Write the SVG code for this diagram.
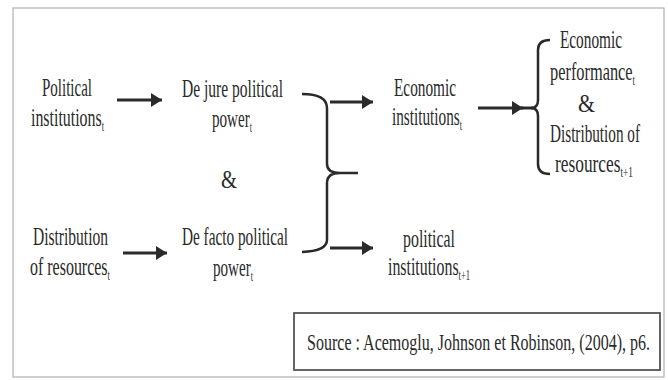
<svg xmlns="http://www.w3.org/2000/svg" width="668" height="380" viewBox="0 0 668 380">
<style>
text{font-family:"Liberation Serif","Times New Roman",serif;font-size:26px;fill:#2a2a2a}
.sub{font-size:14px}
.src{font-size:23px}
.ln{stroke:#2a2a2a;stroke-width:3;fill:none}
.br{stroke:#2a2a2a;stroke-width:2.5;fill:none}
</style>
<defs>
<marker id="ah" markerUnits="userSpaceOnUse" markerWidth="12" markerHeight="14" refX="11" refY="7" orient="auto">
<path d="M0,0 L11,7 L0,14 Z" fill="#2a2a2a"/>
</marker>
</defs>
<rect x="13" y="8" width="651" height="369" fill="#fff" stroke="#b0b0b0" stroke-width="1.2"/>
<g id="pol-inst-t" transform="scale(0.6,1)">
<text x="70" y="96" textLength="83.3" lengthAdjust="spacingAndGlyphs">Political</text>
<text x="51.7" y="126" textLength="121.7" lengthAdjust="spacingAndGlyphs">institutions<tspan class="sub" dy="5">t</tspan></text>
</g>
<g id="dejure" transform="scale(0.6,1)">
<text x="303.3" y="97" textLength="168.3" lengthAdjust="spacingAndGlyphs">De jure political</text>
<text x="353.3" y="127" textLength="66.7" lengthAdjust="spacingAndGlyphs">power<tspan class="sub" dy="5">t</tspan></text>
</g>
<g id="amp1" transform="scale(0.6,1)"><text x="368.3" y="188" textLength="26.7" lengthAdjust="spacingAndGlyphs">&amp;</text></g>
<g id="dist-t" transform="scale(0.6,1)">
<text x="55" y="245" textLength="125" lengthAdjust="spacingAndGlyphs">Distribution</text>
<text x="50" y="275" textLength="133.3" lengthAdjust="spacingAndGlyphs">of resources<tspan class="sub" dy="5">t</tspan></text>
</g>
<g id="defacto" transform="scale(0.6,1)">
<text x="303.3" y="245" textLength="176.7" lengthAdjust="spacingAndGlyphs">De facto political</text>
<text x="355" y="276" textLength="66.7" lengthAdjust="spacingAndGlyphs">power<tspan class="sub" dy="5">t</tspan></text>
</g>
<g id="econ-inst" transform="scale(0.6,1)">
<text x="656.7" y="96" textLength="103.3" lengthAdjust="spacingAndGlyphs">Economic</text>
<text x="653.3" y="125" textLength="116.7" lengthAdjust="spacingAndGlyphs">institutions<tspan class="sub" dy="5">t</tspan></text>
</g>
<g id="pol-inst-t1" transform="scale(0.6,1)">
<text x="671.7" y="247" textLength="86.7" lengthAdjust="spacingAndGlyphs">political</text>
<text x="646.7" y="275" textLength="136.7" lengthAdjust="spacingAndGlyphs">institutions<tspan class="sub" dy="5">t+1</tspan></text>
</g>
<g id="outcome" transform="scale(0.6,1)">
<text x="933.3" y="48" textLength="103.3" lengthAdjust="spacingAndGlyphs">Economic</text>
<text x="916.7" y="80" textLength="141.7" lengthAdjust="spacingAndGlyphs">performance<tspan class="sub" dy="5">t</tspan></text>
<text x="963.3" y="112" textLength="28.3" lengthAdjust="spacingAndGlyphs">&amp;</text>
<text x="916.7" y="142" textLength="150" lengthAdjust="spacingAndGlyphs">Distribution of</text>
<text x="925" y="172" textLength="130" lengthAdjust="spacingAndGlyphs">resources<tspan class="sub" dy="5">t+1</tspan></text>
</g>
<g id="source">
<rect x="294" y="313" width="366" height="57" fill="none" stroke="#555" stroke-width="1.8"/>
<text class="src" transform="scale(0.6,1)" x="511.7" y="350" textLength="571.7" lengthAdjust="spacingAndGlyphs">Source : Acemoglu, Johnson et Robinson, (2004), p6.</text>
</g>
<g id="connectors">
<line class="ln" x1="117" y1="100" x2="162" y2="100" marker-end="url(#ah)"/>
<line class="ln" x1="123" y1="253" x2="167" y2="253" marker-end="url(#ah)"/>
<path class="br" d="M302,94 Q327,94 327,108 L327,164 Q327,173 340,173 L358,173 M340,173 Q327,173 327,183 L327,240 Q327,251 302,252"/>
<line class="ln" x1="330" y1="102" x2="373" y2="102" marker-end="url(#ah)"/>
<line class="ln" x1="330" y1="248" x2="373" y2="248" marker-end="url(#ah)"/>
<line class="ln" x1="478" y1="108" x2="523" y2="108" marker-end="url(#ah)"/>
<line class="ln" x1="521" y1="108" x2="533" y2="108"/>
<path class="br" d="M550,40 Q538,40 538,50 L538,100 Q538,108 531,108 Q538,108 538,116 L538,164 Q538,174 550,174"/>
</g>
</svg>
